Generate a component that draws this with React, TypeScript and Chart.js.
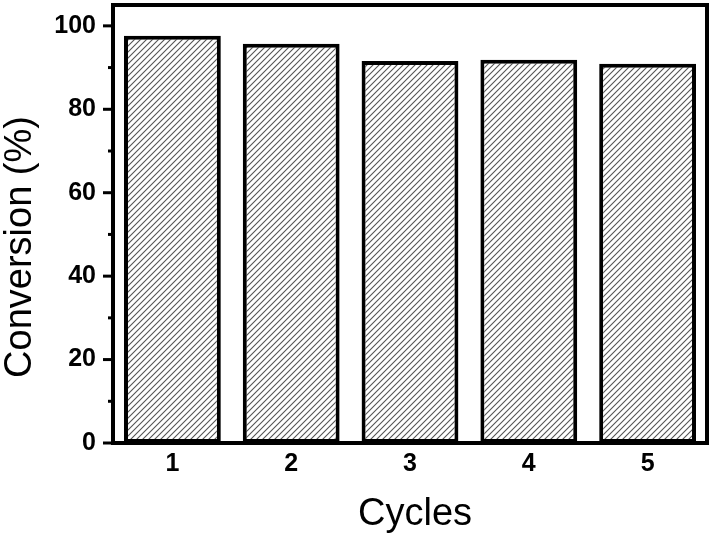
import React, { useEffect, useRef } from "react";
import { Chart, registerables } from "chart.js";

Chart.register(...registerables);

const cycles = ["1", "2", "3", "4", "5"];
const conversion = [97.6, 95.7, 91.6, 91.9, 90.9];
const yMin = 0;
const yMax = 105;
const majorTicks = [0, 20, 40, 60, 80, 100];
const minorTicks = [10, 30, 50, 70, 90];
const xTitle = "Cycles";
const yTitle = "Conversion (%)";

const FONT = '"Liberation Sans", Arial, Helvetica, sans-serif';

function makePattern(): CanvasPattern | string {
  const s = 6;
  const c = document.createElement("canvas");
  c.width = s;
  c.height = s;
  const g = c.getContext("2d");
  if (!g) return "#bbb";
  g.fillStyle = "#ffffff";
  g.fillRect(0, 0, s, s);
  g.strokeStyle = "#555555";
  g.lineWidth = 1.1;
  g.beginPath();
  g.moveTo(0, s);
  g.lineTo(s, 0);
  g.moveTo(-1, 1);
  g.lineTo(1, -1);
  g.moveTo(s - 1, s + 1);
  g.lineTo(s + 1, s - 1);
  g.stroke();
  const p = g.createPattern(c, "repeat");
  return p || "#bbb";
}

const framePlugin = {
  id: "frameAndTicks",
  afterDatasetsDraw(chart: any) {
    const { ctx, chartArea } = chart;
    const y = chart.scales.y;
    const { left, right, top, bottom } = chartArea;
    ctx.save();
    ctx.strokeStyle = "#000";
    ctx.lineWidth = 4;
    ctx.strokeRect(left, top, right - left, bottom - top);
    ctx.lineCap = "butt";
    ctx.lineWidth = 3;
    majorTicks.forEach((v) => {
      const py = y.getPixelForValue(v);
      ctx.beginPath();
      ctx.moveTo(left - 10, py);
      ctx.lineTo(left, py);
      ctx.stroke();
    });
    minorTicks.forEach((v) => {
      const py = y.getPixelForValue(v);
      ctx.beginPath();
      ctx.moveTo(left - 5, py);
      ctx.lineTo(left, py);
      ctx.stroke();
    });
    // axis titles
    ctx.fillStyle = "#000";
    ctx.font = `38px ${FONT}`;
    ctx.textAlign = "center";
    ctx.textBaseline = "middle";
    ctx.fillText(xTitle, (left + right) / 2 + 5, bottom + 72);
    ctx.translate(21, (top + bottom) / 2 + 23);
    ctx.rotate(-Math.PI / 2);
    ctx.fillText(yTitle, 0, 0);
    ctx.restore();
  },
};

export default function App() {
  const ref = useRef<HTMLCanvasElement | null>(null);
  useEffect(() => {
    if (!ref.current) return;
    const chart = new Chart(ref.current, {
      type: "bar",
      data: {
        labels: cycles,
        datasets: [
          {
            data: conversion,
            backgroundColor: makePattern() as any,
            borderColor: "#000",
            borderWidth: 4,
            borderSkipped: false,
            barPercentage: 0.815,
            categoryPercentage: 1,
          },
        ],
      },
      options: {
        animation: false,
        responsive: false,
        layout: { padding: { top: 5, right: 5, left: 0, bottom: 0 } },
        plugins: { legend: { display: false }, tooltip: { enabled: false } },
        scales: {
          x: {
            grid: { display: false, drawTicks: false },
            border: { display: false },
            ticks: {
              color: "#000",
              font: { family: FONT, size: 25, weight: "bold" },
              padding: 6,
            },
            afterFit: (s: any) => {
              s.height = 95;
              s.paddingLeft = 0;
              s.paddingRight = 0;
            },
          },
          y: {
            min: yMin,
            max: yMax,
            grid: { display: false, drawTicks: false },
            border: { display: false },
            ticks: {
              stepSize: 20,
              includeBounds: false,
              color: "#000",
              font: { family: FONT, size: 25, weight: "bold" },
              padding: 17,
            },
            afterFit: (s: any) => {
              s.width = 113;
              s.paddingTop = 0;
              s.paddingBottom = 0;
            },
          },
        },
      },
      plugins: [framePlugin],
    });
    return () => chart.destroy();
  }, []);
  return (
    <div style={{ position: "fixed", left: 0, top: 0, width: 712, height: 538, background: "#fff" }}>
      <canvas ref={ref} width={712} height={538} style={{ display: "block" }} />
    </div>
  );
}
